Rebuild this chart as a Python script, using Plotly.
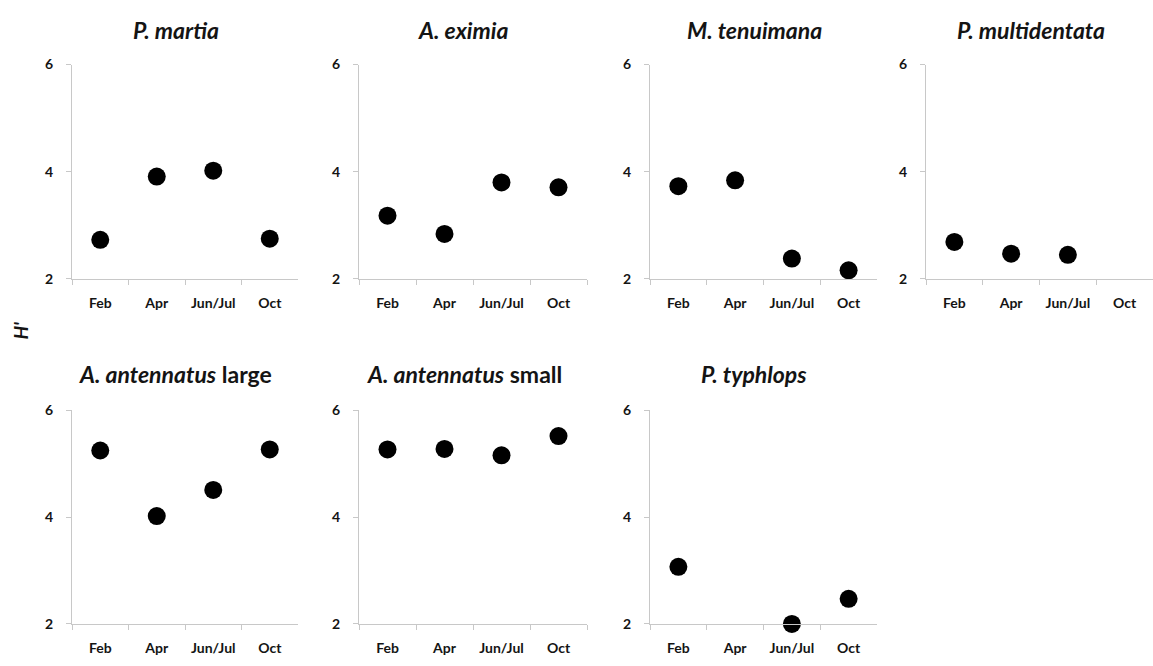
import plotly.graph_objects as go

W, H = 1153, 666

months = ["Feb", "Apr", "Jun/Jul", "Oct"]

# Shannon diversity H' per species and sampling period (None = not sampled)
p_martia = [2.73, 3.91, 4.02, 2.75]
a_eximia = [3.18, 2.84, 3.80, 3.71]
m_tenuimana = [3.73, 3.84, 2.38, 2.16]
p_multidentata = [2.69, 2.47, 2.45, None]
a_antennatus_large = [5.25, 4.02, 4.51, 5.27]
a_antennatus_small = [5.27, 5.28, 5.16, 5.52]
p_typhlops = [3.07, None, 2.00, 2.47]

titles = [
    "<b><i>P. martia</i></b>",
    "<b><i>A. eximia</i></b>",
    "<b><i>M. tenuimana</i></b>",
    "<b><i>P. multidentata</i></b>",
    "<b><i>A. antennatus</i> large</b>",
    "<b><i>A. antennatus</i> small</b>",
    "<b><i>P. typhlops</i></b>",
]
series = [p_martia, a_eximia, m_tenuimana, p_multidentata,
          a_antennatus_large, a_antennatus_small, p_typhlops]

y_ticks = [2, 4, 6]

# panel frames in pixels: (left, right) per column, (top, bottom) per row
cols_px = [(72, 298), (359, 587), (650, 877), (926, 1153)]
rows_px = [(57, 277), (412, 631)]
title_x_px = [176, 463, 754, 1031, 175, 464, 754]
title_y_px = [22, 375]

FONT = "Lato"
AXIS_GREY = "#c8c8c8"
TEXT = "#141414"

fig = go.Figure()
layout = dict(
    width=W, height=H,
    margin=dict(l=0, r=0, t=0, b=0),
    paper_bgcolor="white", plot_bgcolor="white",
    showlegend=False,
    font=dict(family=FONT, color=TEXT),
)
annotations = []

for i, (vals, title) in enumerate(zip(series, titles)):
    r, c = divmod(i, 4)
    n = i + 1
    xa = "x" if n == 1 else f"x{n}"
    ya = "y" if n == 1 else f"y{n}"
    fig.add_trace(go.Scatter(
        x=months, y=vals, mode="markers",
        marker=dict(color="black", size=18),
        cliponaxis=False, xaxis=xa, yaxis=ya,
    ))
    l, rr = cols_px[c]
    t, b = rows_px[r]
    layout["xaxis" if n == 1 else f"xaxis{n}"] = dict(
        domain=[l / W, rr / W], anchor=ya,
        type="category", categoryorder="array", categoryarray=months,
        range=[-0.5, 3.5], tickson="boundaries", tickangle=0,
        showline=True, linecolor=AXIS_GREY, linewidth=1,
        ticks="outside", ticklen=5, tickcolor=AXIS_GREY,
        showgrid=False, zeroline=False, ticklabelstandoff=11,
        tickfont=dict(family=FONT, size=14, color=TEXT, weight="bold"),
        fixedrange=True,
    )
    layout["yaxis" if n == 1 else f"yaxis{n}"] = dict(
        domain=[1 - b / H, 1 - t / H], anchor=xa,
        range=[2, 6], tickvals=y_ticks,
        showline=True, linecolor=AXIS_GREY, linewidth=1,
        ticks="outside", ticklen=5, tickcolor=AXIS_GREY,
        showgrid=False, zeroline=False, ticklabelstandoff=10,
        tickfont=dict(family=FONT, size=14, color=TEXT, weight="bold"),
        fixedrange=True,
    )
    annotations.append(dict(
        text=title, xref="paper", yref="paper",
        x=title_x_px[i] / W, y=1 - title_y_px[r] / H,
        xanchor="center", yanchor="middle", showarrow=False,
        font=dict(family=FONT, size=23, color=TEXT),
    ))

annotations.append(dict(
    text="<b><i>H'</i></b>", xref="paper", yref="paper",
    x=21 / W, y=1 - 330 / H, xanchor="center", yanchor="middle",
    textangle=-90, showarrow=False,
    font=dict(family=FONT, size=19, color=TEXT),
))
layout["annotations"] = annotations

fig.update_layout(**layout)
fig.write_html("out.html")
